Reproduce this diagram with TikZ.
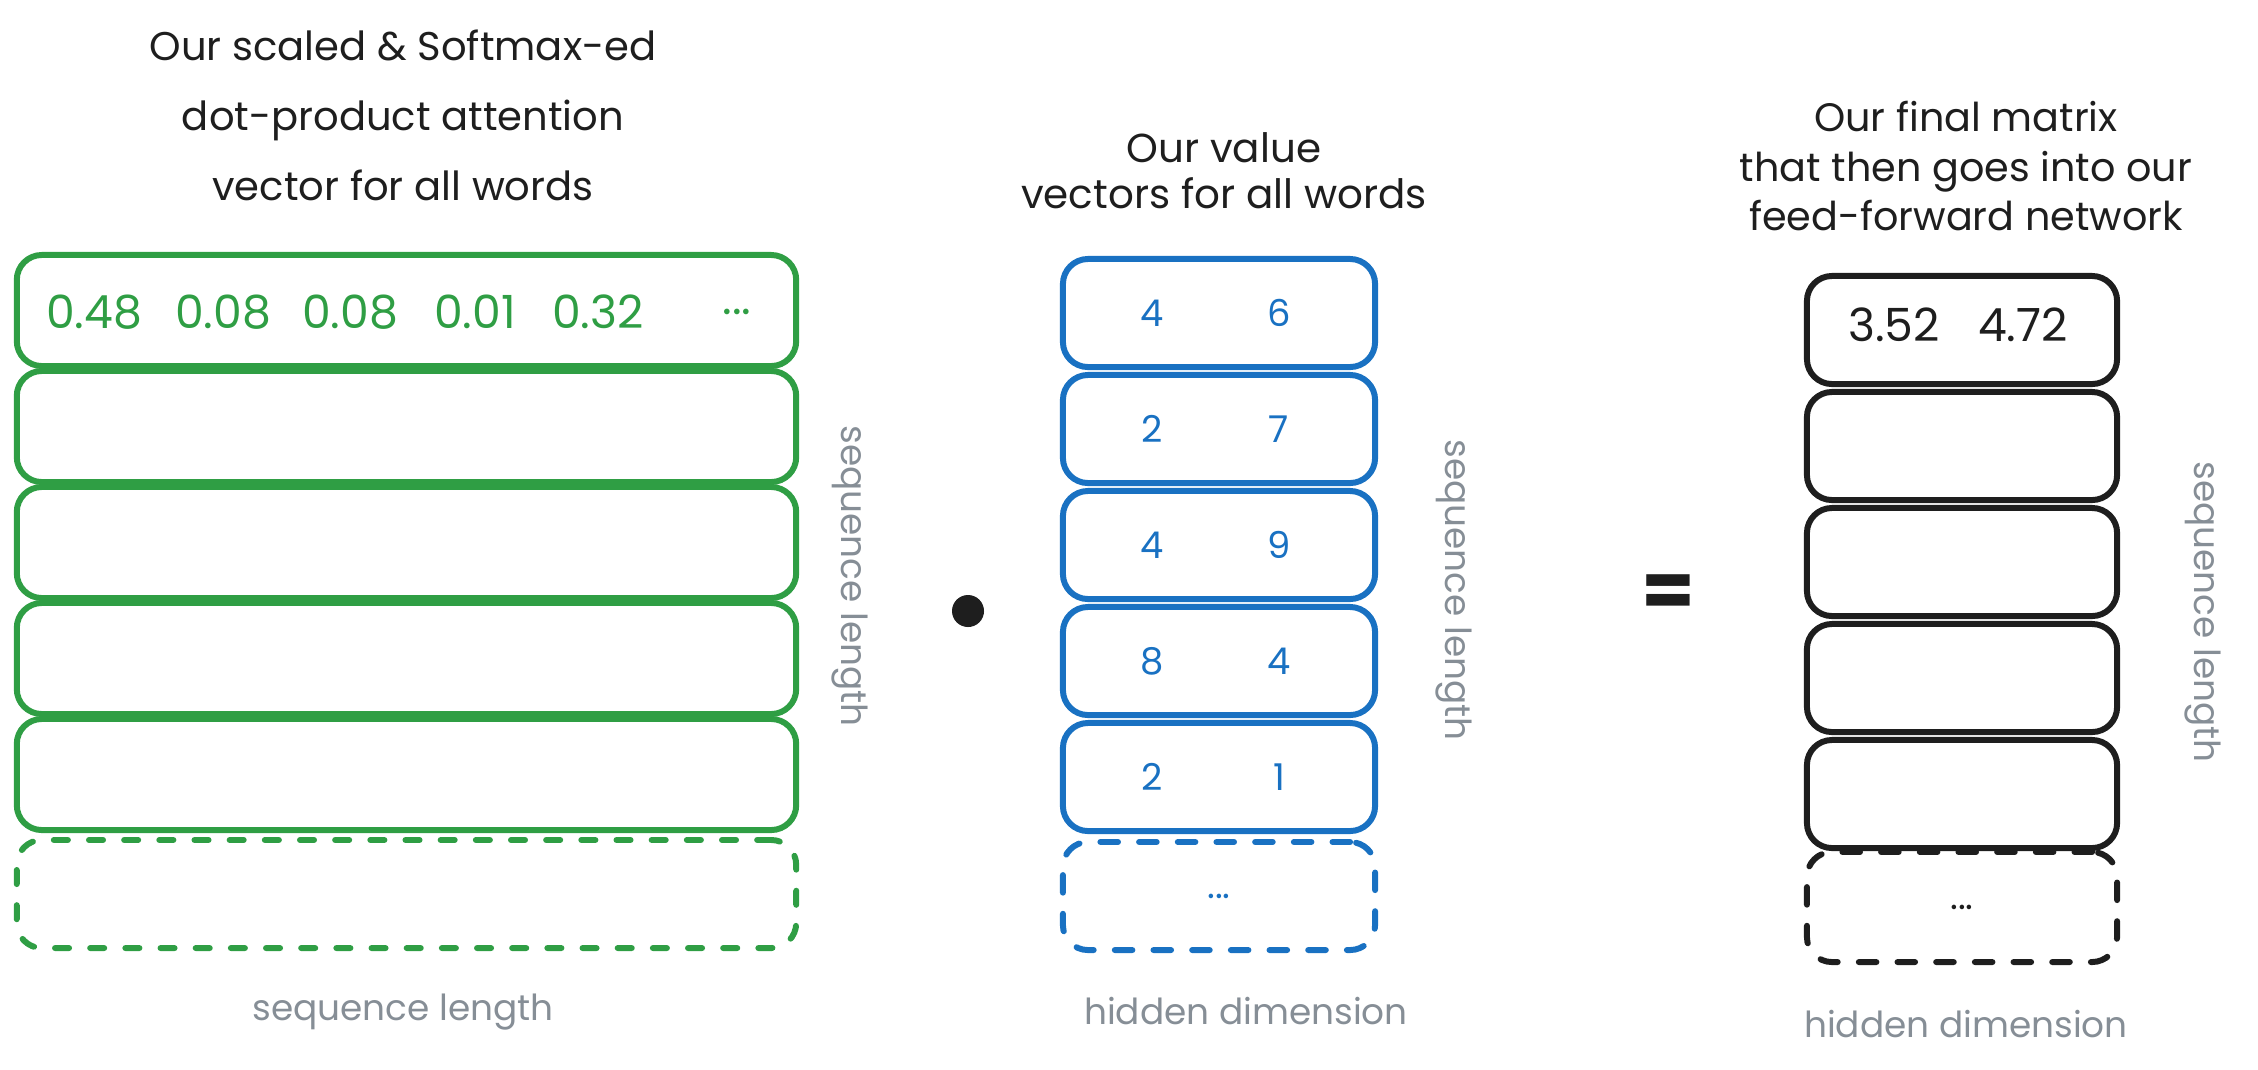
\documentclass[tikz,border=0pt]{standalone}
\usepackage{fontspec}
\setmainfont{Poppins}
\usepackage{tikz}

\definecolor{exgreen}{HTML}{2F9E44}
\definecolor{exblue}{HTML}{1971C2}
\definecolor{exblack}{HTML}{1E1E1E}
\definecolor{exgray}{HTML}{868E96}

\tikzset{
	rowbox/.style={draw, rounded corners=0.25cm, line width=1.7pt},
	dashbox/.style={rowbox, dash pattern=on 5pt off 6pt, line cap=round},
	title/.style={align=center, text=exblack},
	axis/.style={text=exgray, font=\fontsize{10.2}{12}\selectfont},
}

\begin{document}
\begin{tikzpicture}[x=0.01cm, y=-0.01cm]
			\useasboundingbox (0,0) rectangle (2258,1069);
			% titles
			\node   (tg) at (403,115) [title, font=\fontsize{11.4}{19.9}\selectfont] {Our scaled \& Softmax-ed\\dot-product attention\\vector for all words};
			\node   (tv) at (1224,171) [title, font=\fontsize{11.5}{13}\selectfont] {Our value\\vectors for all words};
			\node   (to) at (1966,166) [title, font=\fontsize{11.3}{14}\selectfont] {Our final matrix\\that then goes into our\\feed-forward network};
			% attention matrix
			\foreach \i/\y in {1/310.5, 2/426.5, 3/542.5, 4/658.5, 5/774.5}
				\node (g\i) at (406.5,\y) [rowbox, draw=exgreen, minimum width=7.79cm, minimum height=1.11cm] {};
			\node	(gd) at (406.5,894) [dashbox, draw=exgreen, dash pattern=on 4pt off 6pt, minimum width=7.79cm, minimum height=1.08cm] {};
			% value vectors
			\foreach \i/\y in {1/313, 2/429, 3/545, 4/661, 5/777}
				\node (v\i) at (1219,\y) [rowbox, draw=exblue, minimum width=3.12cm, minimum height=1.08cm] {};
			\node	(vd) at (1219,896) [dashbox, draw=exblue, minimum width=3.12cm, minimum height=1.08cm] {};
			% output matrix
			\foreach \i/\y in {1/330, 2/446, 3/562, 4/678, 5/794}
				\node (o\i) at (1962,\y) [rowbox, draw=exblack, minimum width=3.10cm, minimum height=1.08cm] {};
			\node	(od) at (1962,907) [dashbox, draw=exblack, minimum width=3.10cm, minimum height=1.10cm] {};
			% entries
			\foreach \x/\t in {94/0.48, 223/0.08, 350/0.08, 475/0.01, 598/0.32}
				\node at (\x,312) [text=exgreen, font=\fontsize{13}{15}\selectfont] {\t};
			\node at (737,312) [text=exgreen, font=\fontsize{13}{15}\selectfont] {...};
			\foreach \i/\a/\b in {1/4/6, 2/2/7, 3/4/9, 4/8/4, 5/2/1} {
				\node at ([xshift=-0.67cm]v\i.center) [text=exblue, font=\fontsize{10.5}{12}\selectfont] {\a};
				\node at ([xshift=0.60cm]v\i.center) [text=exblue, font=\fontsize{10.5}{12}\selectfont] {\b};
			}
			\node at (vd) [text=exblue, font=\fontsize{10.5}{12}\selectfont] {...};
			\node at (1894,325) [text=exblack, font=\fontsize{13}{15}\selectfont] {3.52};
			\node at (2023,325) [text=exblack, font=\fontsize{13}{15}\selectfont] {4.72};
			\node at (od) [text=exblack, font=\fontsize{10.5}{12}\selectfont] {...};
			% axis labels
			\node   (gs) at (850,576) [axis, rotate=-90] {sequence length};
			\node   (gl) at (403,1012) [axis] {sequence length};
			\node   (vs) at (1454,590) [axis, rotate=-90] {sequence length};
			\node   (vh) at (1246,1011) [axis] {hidden dimension};
			\node   (os) at (2203,612) [axis, rotate=-90] {sequence length};
			\node   (oh) at (1966,1024) [axis] {hidden dimension};
			% operators
			\node	(dot) at (968,611) [circle, fill=exblack, minimum size=0.32cm, inner sep=0pt] {};
			\node	(eq) at (1668,596) [text=exblack, font=\fontsize{22}{24}\selectfont\bfseries] {=};
		\end{tikzpicture}
\end{document}
